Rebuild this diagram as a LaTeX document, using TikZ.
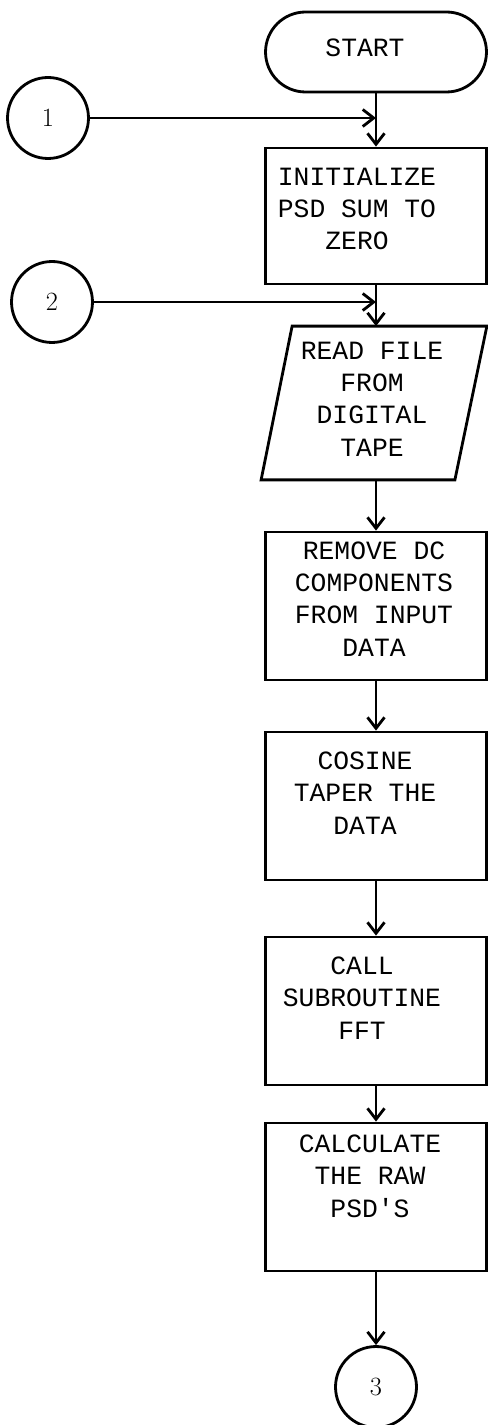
\documentclass[tikz,border=0pt]{standalone}
\usepackage{fontspec}
\newfontfamily\typer{Liberation Mono}
\usepackage{tikz}
\usetikzlibrary{positioning}
\usetikzlibrary{calc}
\usetikzlibrary{shapes.misc}
\usetikzlibrary{arrows.meta}

\begin{document}
\begin{tikzpicture}[x=0.02cm,y=-0.02cm,line width=1.6pt,
  >={Straight Barb[length=2.2mm,width=3.4mm]},
  proc/.style={draw,rectangle,minimum width=4.42cm,minimum height=2.96cm,inner sep=0pt},
  io/.style={rectangle,minimum width=4.46cm,minimum height=3.02cm,inner sep=0pt},
  term/.style={draw,rounded rectangle,minimum width=4.42cm,minimum height=1.6cm,inner sep=0pt},
  conn/.style={draw,circle,minimum size=1.62cm,inner sep=0pt,font=\fontsize{15}{17}\selectfont},
  txt/.style={align=center,inner sep=0pt,font=\typer\fontsize{15}{18.4}\selectfont}]
\useasboundingbox (0,0) rectangle (487,1425);

\node[term] (start) at (376,52) {};
\node[txt] (start-t) at (365,48) {START};
\node[conn] (c1) at (48,118) {1};
\node[proc, minimum height=2.72cm] (init) at (376,216) {};
\node[txt] (init-t) at (357,209) {INITIALIZE\\PSD SUM TO\\ZERO};
\node[conn] (c2) at (52,302) {2};
\node[io] (read) at (374,403) {};
\draw ($(read.north west)+(31,0)$) -- (read.north east)
  -- ($(read.south east)-(32,0)$) -- (read.south west) -- cycle;
\node[txt] (read-t) at (372,399) {READ FILE\\FROM\\DIGITAL\\TAPE};
\node[proc] (remove) at (376,606) {};
\node[txt] (remove-t) at (374,599) {REMOVE DC\\COMPONENTS\\FROM INPUT\\DATA};
\node[proc] (taper) at (376,806) {};
\node[txt] (taper-t) at (365,793) {COSINE\\TAPER THE\\DATA};
\node[proc] (fft) at (376,1011) {};
\node[txt] (fft-t) at (362,998) {CALL\\SUBROUTINE\\FFT};
\node[proc] (raw) at (376,1197) {};
\node[txt] (raw-t) at (370,1176) {CALCULATE\\THE RAW\\PSD\textquotesingle S};
\node[conn] (c3) at (376,1387) {3};

\draw[->] (start) -- (init);
\draw[->] (c1) -- (c1 -| init);
\draw[->] (init) -- (init |- read.north);
\draw[->] (c2) -- (c2 -| init);
\draw[->] (init |- read.south) -- (remove);
\draw[->] (remove) -- (taper);
\draw[->] (taper) -- (fft);
\draw[->] (fft) -- (raw);
\draw[->] (raw) -- (c3);
\end{tikzpicture}
\end{document}
